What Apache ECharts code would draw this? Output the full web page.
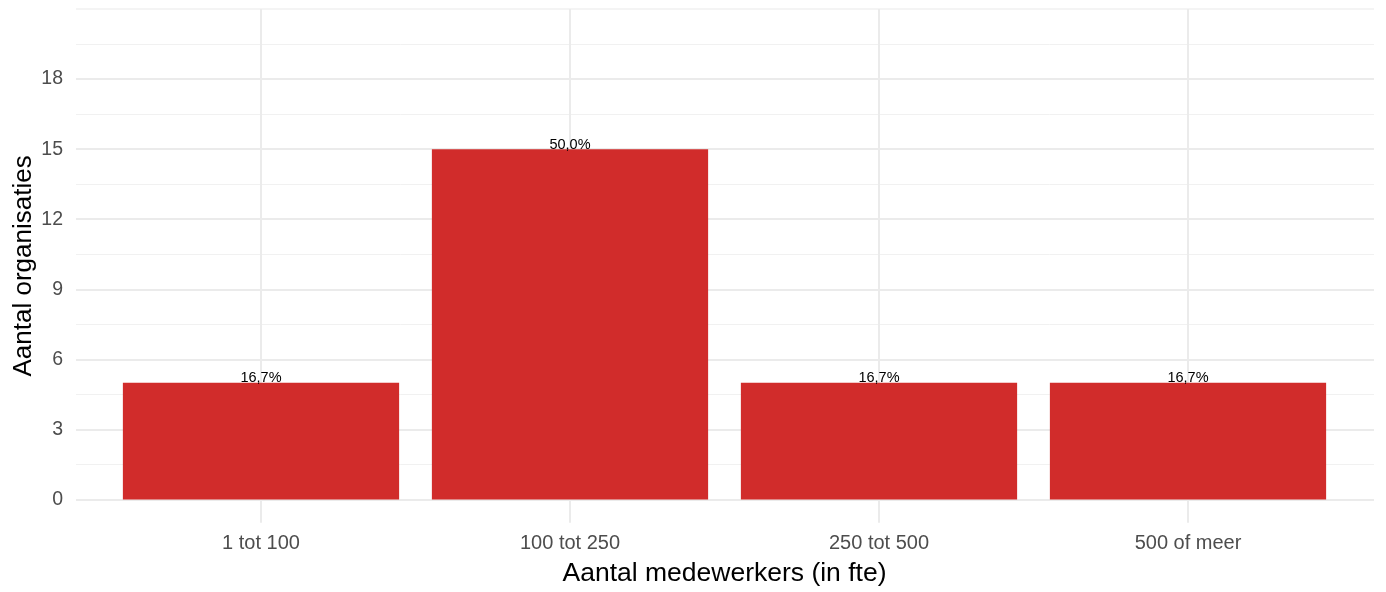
<!DOCTYPE html>
<html>
<head>
<meta charset="utf-8">
<script src="https://cdn.jsdelivr.net/npm/echarts@6/dist/echarts.min.js"></script>
<style>
html,body{margin:0;padding:0;background:#fff;}
#chart{width:1386px;height:592px;}
</style>
</head>
<body>
<div id="chart"></div>
<script>
const categories = ["1 tot 100", "100 tot 250", "250 tot 500", "500 of meer"];
const counts = [5, 15, 5, 5];
const percentLabels = ["16,7%", "50,0%", "16,7%", "16,7%"];
const yTicks = [0, 3, 6, 9, 12, 15, 18];

const FONT = "Liberation Sans, Arial, sans-serif";
const chart = echarts.init(document.getElementById('chart'), null, {renderer: 'canvas'});

const option = {
  backgroundColor: '#ffffff',
  animation: false,
  grid: [
    {left: 76, right: 12, top: 9, bottom: 92.5, containLabel: false},
    {left: 261, right: 198, top: 9, bottom: 69.14, containLabel: false}
  ],
  xAxis: [
    {gridIndex: 0, type: 'value', min: 0, max: 1, show: false},
    {
      gridIndex: 1, type: 'category', data: categories, boundaryGap: false,
      axisLine: {show: false}, axisTick: {show: false},
      axisLabel: {color: '#4d4d4d', fontSize: 20, fontFamily: FONT, margin: 11},
      splitLine: {show: true, lineStyle: {color: '#ebebeb', width: 2}},
      name: 'Aantal medewerkers (in fte)', nameLocation: 'middle', nameGap: 37,
      nameTextStyle: {color: '#000', fontSize: 26.5, fontFamily: FONT}
    }
  ],
  yAxis: [
    {
      gridIndex: 0, type: 'value', min: 0, max: 21, interval: 3,
      axisLine: {show: false}, axisTick: {show: false},
      axisLabel: {
        color: '#4d4d4d', fontSize: 19.5, fontFamily: FONT, margin: 13, padding: [6, 0, 0, 0],
        formatter: v => yTicks.includes(v) ? String(v) : ''
      },
      splitLine: {show: true, lineStyle: {
        color: ['#ebebeb','#ebebeb','#ebebeb','#ebebeb','#ebebeb','#ebebeb','#ebebeb','#f4f4f4'], width: 2}},
      minorTick: {show: false, splitNumber: 2},
      minorSplitLine: {show: true, lineStyle: {color: '#f1f1f1', width: 1}}
    },
    {
      gridIndex: 1, type: 'value', min: -1, max: 21,
      axisLine: {show: false}, axisTick: {show: false}, axisLabel: {show: false},
      splitLine: {show: false},
      name: 'Aantal organisaties', nameLocation: 'middle', nameGap: 224,
      nameTextStyle: {color: '#000', fontSize: 26, fontFamily: FONT}
    }
  ],
  series: [
    {
      type: 'bar', xAxisIndex: 1, yAxisIndex: 1,
      data: counts, barWidth: '89.4%', clip: false,
      itemStyle: {color: '#d12c2b'},
      label: {
        show: true, position: 'top', distance: -3,
        formatter: p => percentLabels[p.dataIndex],
        color: '#000', fontSize: 14.5, fontFamily: FONT
      }
    }
  ]
};
chart.setOption(option);
</script>
</body>
</html>
